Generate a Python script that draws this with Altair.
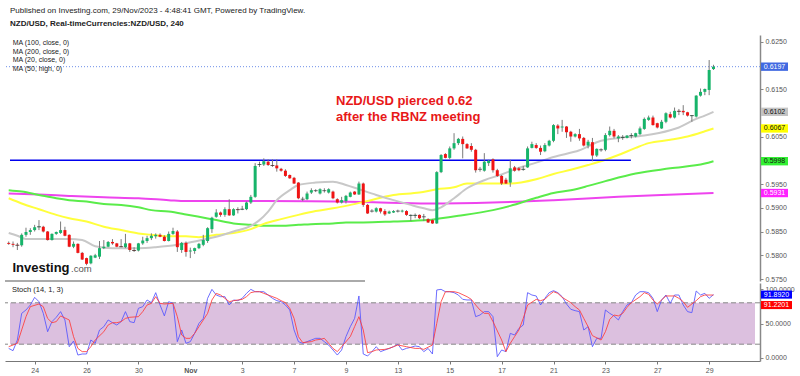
import altair as alt
import pandas as pd

# ---------------- data ----------------
opens = [0.5826,0.5824,0.5822,0.5821,0.5843,0.5849,0.5853,0.5859,0.5860,0.5850,
0.5832,0.5845,0.5847,0.5853,0.5843,0.5818,0.5824,0.5805,0.5794,0.5783,
0.5795,0.5797,0.5815,0.5818,0.5828,0.5825,0.5819,0.5817,0.5825,0.5811,
0.5810,0.5825,0.5830,0.5836,0.5840,0.5843,0.5839,0.5830,0.5845,0.5850,
0.5811,0.5826,0.5808,0.5809,0.5815,0.5822,0.5830,0.5855,0.5881,0.5890,
0.5885,0.5897,0.5884,0.5897,0.5896,0.5897,0.5911,0.5923,0.5990,0.5991,
0.5997,0.5990,0.5989,0.5982,0.5978,0.5969,0.5963,0.5953,0.5918,0.5918,
0.5932,0.5936,0.5930,0.5936,0.5932,0.5934,0.5918,0.5911,0.5914,0.5923,
0.5934,0.5928,0.5951,0.5906,0.5893,0.5892,0.5899,0.5893,0.5888,0.5890,
0.5893,0.5892,0.5893,0.5883,0.5883,0.5885,0.5881,0.5876,0.5874,0.5867,
0.5975,0.6013,0.6005,0.6025,0.6036,0.6045,0.6034,0.6030,0.6022,0.5981,
0.5978,0.5994,0.6002,0.5979,0.5967,0.5959,0.5953,0.5985,0.5983,0.5980,
0.5985,0.6026,0.6032,0.6026,0.6019,0.6031,0.6041,0.6073,0.6069,0.6071,
0.6060,0.6050,0.6055,0.6047,0.6031,0.6038,0.6010,0.6022,0.6022,0.6053,
0.6062,0.6046,0.6047,0.6047,0.6051,0.6050,0.6055,0.6066,0.6085,0.6090,
0.6078,0.6067,0.6081,0.6097,0.6090,0.6104,0.6104,0.6101,0.6093,0.6092,
0.6136,0.6144,0.6148,0.6192]
highs = [0.5829,0.5829,0.5826,0.5846,0.5858,0.5857,0.5864,0.5874,0.5862,0.5851,
0.5846,0.5850,0.5871,0.5860,0.5844,0.5829,0.5825,0.5807,0.5795,0.5800,
0.5803,0.5830,0.5832,0.5830,0.5834,0.5826,0.5834,0.5845,0.5826,0.5817,
0.5826,0.5839,0.5841,0.5846,0.5846,0.5846,0.5842,0.5850,0.5858,0.5853,
0.5828,0.5829,0.5816,0.5816,0.5826,0.5843,0.5859,0.5881,0.5897,0.5892,
0.5901,0.5918,0.5899,0.5901,0.5904,0.5913,0.5927,0.5994,0.5997,0.6004,
0.6002,0.6002,0.6002,0.5984,0.5981,0.5970,0.5965,0.5954,0.5923,0.5934,
0.5941,0.5939,0.5941,0.5941,0.5941,0.5936,0.5920,0.5923,0.5927,0.5934,
0.5935,0.5955,0.5953,0.5908,0.5897,0.5901,0.5900,0.5897,0.5894,0.5895,
0.5896,0.5896,0.5895,0.5886,0.5888,0.5886,0.5887,0.5878,0.5876,0.5977,
0.6013,0.6015,0.6029,0.6057,0.6047,0.6050,0.6036,0.6036,0.6024,0.5986,
0.6015,0.6001,0.6004,0.5982,0.5969,0.5963,0.6001,0.5988,0.5986,0.5988,
0.6029,0.6039,0.6036,0.6031,0.6036,0.6043,0.6076,0.6076,0.6085,0.6072,
0.6062,0.6057,0.6066,0.6049,0.6043,0.6047,0.6025,0.6025,0.6057,0.6071,
0.6066,0.6053,0.6053,0.6053,0.6057,0.6058,0.6071,0.6090,0.6094,0.6094,
0.6079,0.6085,0.6101,0.6102,0.6111,0.6108,0.6116,0.6102,0.6095,0.6137,
0.6151,0.6151,0.6211,0.6201]
lows = [0.5822,0.5817,0.5811,0.5818,0.5839,0.5843,0.5850,0.5853,0.5848,0.5831,
0.5831,0.5843,0.5845,0.5840,0.5817,0.5815,0.5804,0.5790,0.5779,0.5781,
0.5794,0.5792,0.5813,0.5817,0.5822,0.5817,0.5817,0.5815,0.5807,0.5807,
0.5808,0.5822,0.5826,0.5832,0.5835,0.5838,0.5829,0.5829,0.5843,0.5807,
0.5805,0.5797,0.5794,0.5803,0.5813,0.5819,0.5826,0.5847,0.5879,0.5881,
0.5881,0.5883,0.5883,0.5888,0.5895,0.5895,0.5908,0.5921,0.5986,0.5988,
0.5988,0.5986,0.5976,0.5976,0.5965,0.5961,0.5950,0.5918,0.5914,0.5916,
0.5929,0.5933,0.5928,0.5932,0.5930,0.5918,0.5909,0.5909,0.5909,0.5922,
0.5927,0.5927,0.5902,0.5887,0.5890,0.5890,0.5888,0.5883,0.5887,0.5889,
0.5890,0.5890,0.5883,0.5872,0.5878,0.5876,0.5872,0.5868,0.5866,0.5866,
0.5973,0.6004,0.6002,0.6022,0.6032,0.6004,0.6024,0.6018,0.5974,0.5976,
0.5976,0.5988,0.5974,0.5965,0.5948,0.5950,0.5944,0.5976,0.5977,0.5978,
0.5984,0.6025,0.6024,0.6011,0.6017,0.6029,0.6038,0.6055,0.6060,0.6047,
0.6039,0.6048,0.6041,0.6029,0.6025,0.5998,0.6007,0.6018,0.6019,0.6050,
0.6046,0.6038,0.6043,0.6046,0.6046,0.6048,0.6053,0.6064,0.6083,0.6073,
0.6067,0.6066,0.6078,0.6088,0.6088,0.6095,0.6095,0.6092,0.6081,0.6090,
0.6134,0.6137,0.6137,0.6190]
closes = [0.5824,0.5822,0.5821,0.5843,0.5849,0.5853,0.5859,0.5860,0.5850,0.5832,
0.5845,0.5849,0.5853,0.5841,0.5818,0.5824,0.5805,0.5791,0.5782,0.5799,
0.5800,0.5815,0.5818,0.5828,0.5825,0.5818,0.5818,0.5825,0.5811,0.5810,
0.5825,0.5831,0.5836,0.5841,0.5843,0.5839,0.5830,0.5845,0.5851,0.5817,
0.5826,0.5807,0.5810,0.5815,0.5824,0.5832,0.5857,0.5879,0.5890,0.5885,
0.5897,0.5884,0.5897,0.5896,0.5897,0.5911,0.5923,0.5988,0.5991,0.5998,
0.5990,0.5989,0.5983,0.5978,0.5967,0.5962,0.5951,0.5920,0.5918,0.5930,
0.5937,0.5936,0.5939,0.5936,0.5939,0.5920,0.5911,0.5916,0.5925,0.5932,
0.5928,0.5951,0.5906,0.5888,0.5893,0.5899,0.5892,0.5886,0.5892,0.5893,
0.5893,0.5894,0.5885,0.5884,0.5884,0.5878,0.5881,0.5869,0.5867,0.5975,
0.6011,0.6005,0.6025,0.6036,0.6045,0.6034,0.6025,0.6022,0.5979,0.5981,
0.5997,0.5999,0.5979,0.5967,0.5951,0.5951,0.5983,0.5978,0.5979,0.5981,
0.6025,0.6034,0.6026,0.6018,0.6032,0.6041,0.6074,0.6067,0.6071,0.6059,
0.6050,0.6055,0.6046,0.6031,0.6039,0.6010,0.6024,0.6022,0.6053,0.6062,
0.6050,0.6050,0.6048,0.6052,0.6052,0.6057,0.6067,0.6087,0.6090,0.6074,
0.6069,0.6081,0.6099,0.6090,0.6104,0.6103,0.6101,0.6094,0.6094,0.6136,
0.6144,0.6150,0.6190,0.6197]

ma20_i = [0,2,4,11,14,17,20,24,30,34,39,43,48,52,56,58,60,62,65,67,71,75,78,81,85,89,93,96,98,100,103,106,110,114,118,122,126,132,137,141,147,153,155,159,161,163]
ma20_v = [0.5847,0.5841,0.5834,0.5834,0.5834,0.5832,0.5819,0.5815,0.5815,0.5817,0.5822,0.5829,0.5839,0.5850,0.5862,0.5874,0.5892,0.5916,0.5937,0.5948,0.5953,0.5955,0.5948,0.5939,0.5927,0.5916,0.5906,0.5899,0.5895,0.5901,0.5920,0.5941,0.5958,0.5970,0.5984,0.5995,0.6007,0.6021,0.6041,0.6047,0.6052,0.6063,0.6069,0.6087,0.6094,0.6102]
ma50_i = [0,3,7,11,14,18,22,26,30,33,37,41,44,48,52,56,59,63,67,71,75,78,82,89,95,99,103,106,111,116,122,126,130,134,138,141,145,148,153,157,161,163]
ma50_v = [0.5920,0.5909,0.5897,0.5885,0.5878,0.5871,0.5860,0.5853,0.5846,0.5843,0.5840,0.5840,0.5838,0.5843,0.5847,0.5855,0.5866,0.5876,0.5885,0.5893,0.5899,0.5904,0.5912,0.5927,0.5932,0.5939,0.5943,0.5951,0.5951,0.5951,0.5960,0.5971,0.5980,0.5990,0.6001,0.6011,0.6026,0.6036,0.6043,0.6050,0.6061,0.6067]
ma100_i = [0,3,7,11,14,18,22,26,30,33,37,41,44,48,52,56,59,63,67,71,75,78,82,89,97,100,104,112,116,122,126,130,134,138,145,153,161,163]
ma100_v = [0.5937,0.5934,0.5927,0.5920,0.5916,0.5913,0.5908,0.5906,0.5901,0.5895,0.5892,0.5886,0.5881,0.5874,0.5867,0.5864,0.5862,0.5862,0.5864,0.5866,0.5867,0.5869,0.5869,0.5871,0.5874,0.5878,0.5883,0.5895,0.5904,0.5921,0.5931,0.5937,0.5946,0.5956,0.5972,0.5983,0.5993,0.5998]
ma200_i = [0,7,14,22,30,37,41,59,82,97,112,126,141,151,163]
ma200_v = [0.5930,0.5928,0.5925,0.5922,0.5920,0.5916,0.5914,0.5914,0.5912,0.5909,0.5911,0.5916,0.5923,0.5927,0.5931]

stoch_k = [13.9,10.6,26.1,64.7,69.6,76.8,87.9,81.6,64.7,38.1,
52.7,59,67.2,55.1,16.4,24.6,4.3,5.8,5.8,26.1,
21.3,40.6,45.4,55.1,51.2,47.8,52.7,67.2,52.7,51.2,
72,74.4,84.1,80.2,94.7,76.8,61,81.6,79.2,23.7,
40.6,21.3,23.7,35.7,50.2,57.4,86.5,99.5,91.3,88.9,
88.9,76.8,84.1,83.1,86.5,93.7,99.5,96.1,96.1,96.1,
91.3,86.5,83.1,81.6,76.8,69.6,40.6,23.7,21.3,23.7,
26.1,28.5,28.5,23.7,18.8,11.6,4.3,11.6,31,45.4,
57.4,89.9,5.8,2.9,9.2,16.4,9.2,11.6,13.9,16.4,
19.8,11.6,14,15.5,17.4,16.4,9.2,13.9,5.8,98.6,
99.5,96.1,96.1,94.7,91.3,85,84.1,84.1,59.9,62.3,
67.2,67.2,59.9,1.9,11.6,9.2,35.7,33.3,43,47.8,
94.7,91.3,89.9,76.8,86.5,94.7,97.6,94.7,88.9,78.3,
70.6,68.6,67.2,40.6,45.4,16.4,28.5,28.5,69.6,64.7,
61,55.1,67.2,76.8,80.2,91.3,96.1,96.1,94.7,86.5,
67.2,84.1,91.3,79.2,91.3,91.3,76.8,67.2,65.7,97.1,
91.3,93.7,86.5,91.89]
stoch_d_i = [0,2,4,5,7,8,9,10,11,12,14,15,16,17,18,19,20,22,23,24,25,26,27,28,30,31,32,33,34,35,36,38,39,40,41,42,43,44,46,47,48,49,50,51,52,54,55,56,57,58,59,60,62,63,64,65,66,67,68,70,71,72,73,74,75,76,77,79,80,81,82,83,84,85,87,88,89,90,
92,94,95,96,98,99,100,101,103,104,106,107,108,109,110,111,112,114,115,116,117,118,119,120,122,123,124,125,126,127,128,130,131,132,133,134,135,137,138,139,140,141,142,143,144,146,147,148,149,150,151,152,154,155,156,157,158,159,160,161,163]
stoch_d_v = [16.4,21.3,59.9,74.4,78.3,74.4,57.4,51.2,52.7,61,55.1,31,13.9,9.2,9.2,16.4,26.1,38.1,47.8,51.2,51.2,52.7,57.4,59,59.9,67.2,76.8,79.2,88.9,79.2,78.3,79.2,59.9,33.3,28.5,28.5,35.7,45.4,64.7,84.1,93.7,91.3,86.5,81.6,83.1,85,88.9,94.7,96.1,96.1,93.7,91.3,86.5,83.1,80.2,72,57.4,31,22.3,23.7,26.1,27,28.5,21.3,13.9,9.2,16.4,31,45.4,59.9,40.6,7.7,9.2,11.6,12.5,13.9,16.4,18.8,
16.4,13.9,13.9,12.5,18.8,50.2,81.6,96.1,96.1,94.7,88.9,85,76.8,69.6,64.7,64.7,52.7,26.1,9.2,21.3,31,40.6,57.4,76.8,85,83.1,85,91.3,96.1,93.7,87.9,80.2,74.4,69.6,57.4,45.4,32.4,26.1,38.1,55.9,62.3,61,64.7,73.4,80.2,88.9,94.7,92.3,84.1,78.3,84.1,89.9,89.9,86.5,81.6,73.4,78.3,83.1,88.9,91.3,91.22]

resistance_level = 0.6000
resistance_end = 143.9
last_price = 0.6197

date_ticks = [6, 18, 30, 42, 54, 66, 78, 90, 102, 114, 126, 138, 150, 162]
date_labels = ["24", "26", "30", "Nov", "3", "7", "9", "13", "15", "17", "21", "23", "27", "29"]
# 0.6000 / 0.6100 / 0.6200 sit under the value boxes in the reference, so only these show
price_ticks = [0.575, 0.580, 0.585, 0.590, 0.595, 0.605, 0.615, 0.625]

price_box_vals = [0.6197, 0.6102, 0.6067, 0.5998, 0.5931]
stoch_box_vals = [91.8920, 91.2201]

# ---------------- styles ----------------
W, H = 755, 326
FONT = "Liberation Sans"
GREEN, RED = "#17b46a", "#f01414"
box_bg = ["#4169e1", "#c4c4c4", "#ffff00", "#33f033", "#ff22ff"]
box_fg = ["white", "#111", "#111", "#111", "white"]

idx = list(range(len(closes)))
candles = pd.DataFrame({"i": idx, "o": opens, "h": highs, "l": lows, "c": closes})

xscale = alt.Scale(domain=[0.3, 172.6], nice=False, zero=False)
label_expr = " : ".join(f"datum.value == {t} ? '{s}'" for t, s in zip(date_ticks, date_labels)) + " : ''"
xaxis = alt.Axis(values=date_ticks, labelExpr=label_expr, grid=False, tickSize=3, labelPadding=2,
                 labelFontSize=7, labelColor="#555", domainColor="#777", tickColor="#777",
                 labelFontWeight={"condition": {"test": "datum.value == 42", "value": "bold"}, "value": "normal"},
                 labelFlush=False, labelOverlap=False)
yscale = alt.Scale(domain=[0.57458, 0.62637], range=[246, 0], nice=False, zero=False)
yaxis = alt.Axis(orient="right", values=price_ticks, format=".4f", grid=False, tickSize=3, labelPadding=2,
                 labelFontSize=7, labelColor="#555", domainColor="#888", domainWidth=1.5, tickColor="#888",
                 labelOverlap=False, labelFlush=False, labelBound=False, zindex=0)
sscale = alt.Scale(domain=[-4.35, 108.7], range=[326, 248], nice=False, zero=False)
saxis = alt.Axis(orient="right", values=[0, 50, 100], format=".4f", grid=False, tickSize=3, labelPadding=2,
                 labelFontSize=7, labelColor="#555", domainColor="#888", domainWidth=1.5, tickColor="#888",
                 labelOverlap=False, labelFlush=False, labelBound=False, zindex=0)

def X(f):
    return alt.X(f, scale=xscale, axis=xaxis, title=None)

def Y(f):
    return alt.Y(f, scale=yscale, axis=yaxis, title=None)

def S(f):
    return alt.Y(f, scale=sscale, axis=saxis, title=None)

one = pd.DataFrame({"a": [0]})

def txt(text, x, y, size, weight="normal", color="#222", baseline="middle", align="left"):
    return alt.Chart(one).mark_text(text=text, font=FONT, fontSize=size, fontWeight=weight, color=color,
                                    baseline=baseline, align=align).encode(x=alt.value(x), y=alt.value(y))

# ---------------- price panel ----------------
ma_layers = []
for mi, mv, col in [(ma200_i, ma200_v, "#ee44ee"), (ma100_i, ma100_v, "#5aec4a"),
                    (ma50_i, ma50_v, "#ffff3c"), (ma20_i, ma20_v, "#c8c8c8")]:
    ma_layers.append(alt.Chart(pd.DataFrame({"i": mi, "v": mv})).mark_line(
        interpolate="monotone", strokeWidth=2, color=col, clip=True).encode(x=X("i:Q"), y=Y("v:Q")))

hline = alt.Chart(pd.DataFrame({"a": [0.3], "b": [resistance_end], "v": [resistance_level]})).mark_rule(
    color="#0000ee", strokeWidth=1.6).encode(x=X("a:Q"), x2="b:Q", y=Y("v:Q"))
dotted = alt.Chart(pd.DataFrame({"v": [last_price]})).mark_rule(
    color="#6f8fe8", strokeWidth=1, strokeDash=[1, 2]).encode(y=Y("v:Q"))

wicks = alt.Chart(candles).mark_rule(color="#7a7a7a", strokeWidth=1, clip=True).encode(
    x=X("i:Q"), y=Y("l:Q"), y2="h:Q")
bodies = alt.Chart(candles).mark_bar(size=3, clip=True).encode(
    x=X("i:Q"), y=Y("o:Q"), y2="c:Q",
    color=alt.condition("datum.c >= datum.o", alt.value(GREEN), alt.value(RED)))
dojis = alt.Chart(candles).transform_filter("abs(datum.c - datum.o) < 0.00011").mark_tick(
    orient="horizontal", size=4, thickness=1, color="#333", clip=True).encode(x=X("i:Q"), y=Y("c:Q"))

separator = alt.Chart(one).mark_rule(color="#aaaaaa", strokeWidth=2).encode(
    x=alt.value(0), x2=alt.value(360), y=alt.value(246))

shape_p = "M-1,-0.31L1,-0.31L1,0.31L-1,0.31Z"
pbox_df = pd.DataFrame({"v": price_box_vals, "t": [f"{v:.4f}" for v in price_box_vals],
                        "bg": box_bg, "fg": box_fg})
pbox = alt.Chart(pbox_df).mark_point(shape=shape_p, size=729, filled=True, opacity=1, strokeWidth=0).encode(
    x=alt.value(769.5), y=Y("v:Q"), color=alt.Color("bg:N", scale=None))
ptext = alt.Chart(pbox_df).mark_text(font=FONT, fontSize=7, baseline="middle", align="center").encode(
    x=alt.value(769.5), y=Y("v:Q"), text="t:N", color=alt.Color("fg:N", scale=None))

texts = [
    txt("Published on Investing.com, 29/Nov/2023 - 4:48:41 GMT, Powered by TradingView.", 5, -24, 8),
    txt("NZD/USD, Real-timeCurrencies:NZD/USD, 240", 5, -10.7, 8, "bold"),
    txt("MA (100, close, 0)", 7.7, 8.3, 7),
    txt("MA (200, close, 0)", 7.7, 16.7, 7),
    txt("MA (20, close, 0)", 7.7, 25.3, 7),
    txt("MA (50, high, 0)", 7.7, 33.7, 7),
    txt("NZD/USD pierced 0.62", 331, 65.5, 13, "bold", "#e81818"),
    txt("after the RBNZ meeting", 331, 82, 13, "bold", "#e81818"),
    txt("Investing", 7.5, 237, 13, "bold", "#111", "alphabetic"),
    txt(".com", 66, 237, 9.5, "normal", "#555", "alphabetic"),
]

price = alt.layer(*ma_layers, hline, dotted, wicks, bodies, dojis, separator, *texts, pbox, ptext)

# ---------------- stochastic panel ----------------
band = alt.Chart(pd.DataFrame({"a": [0.3], "b": [172.6], "t": [80], "u": [20]})).mark_rect(
    color="#dcc0df").encode(x=X("a:Q"), x2="b:Q", y=S("t:Q"), y2="u:Q")
levels = alt.Chart(pd.DataFrame({"v": [20, 80]})).mark_rule(
    color="#888", strokeDash=[5, 3], strokeWidth=1).encode(y=S("v:Q"))
kline = alt.Chart(pd.DataFrame({"i": idx, "v": stoch_k})).mark_line(
    color="#5555ff", strokeWidth=1, opacity=0.85, clip=True).encode(x=X("i:Q"), y=S("v:Q"))
dline = alt.Chart(pd.DataFrame({"i": stoch_d_i, "v": stoch_d_v})).mark_line(
    color="#ff3b3b", strokeWidth=1, opacity=0.85, clip=True).encode(x=X("i:Q"), y=S("v:Q"))

shape_s = "M-1,-0.26L1,-0.26L1,0.26L-1,0.26Z"
sbox_layers = []
for val, col, off in [(stoch_box_vals[0], "#0000ff", 0), (stoch_box_vals[1], "#ff0000", 10)]:
    d = pd.DataFrame({"v": [val], "t": [f"{val:.4f}"]})
    sbox_layers.append(alt.Chart(d).mark_point(shape=shape_s, size=961, filled=True, opacity=1,
                                               strokeWidth=0, color=col, yOffset=off).encode(
        x=alt.value(771.5), y=S("v:Q")))
    sbox_layers.append(alt.Chart(d).mark_text(font=FONT, fontSize=7, baseline="middle", align="center",
                                              color="white", yOffset=off).encode(
        x=alt.value(771.5), y=S("v:Q"), text="t:N"))

stoch_label = txt("Stoch (14, 1, 3)", 7, 255, 7.5)

stoch = alt.layer(band, levels, kline, dline, stoch_label, *sbox_layers)

chart = alt.layer(price, stoch).resolve_scale(y="independent").properties(
    width=W, height=H,
    padding={"left": 5, "top": 35, "right": 40, "bottom": 15},
    autosize=alt.AutoSizeParams(type="none"),
    background="white",
).configure_view(strokeWidth=0).configure_axis(labelFont=FONT)

chart.save("out.html", embed_options={"renderer": "svg", "actions": False})
